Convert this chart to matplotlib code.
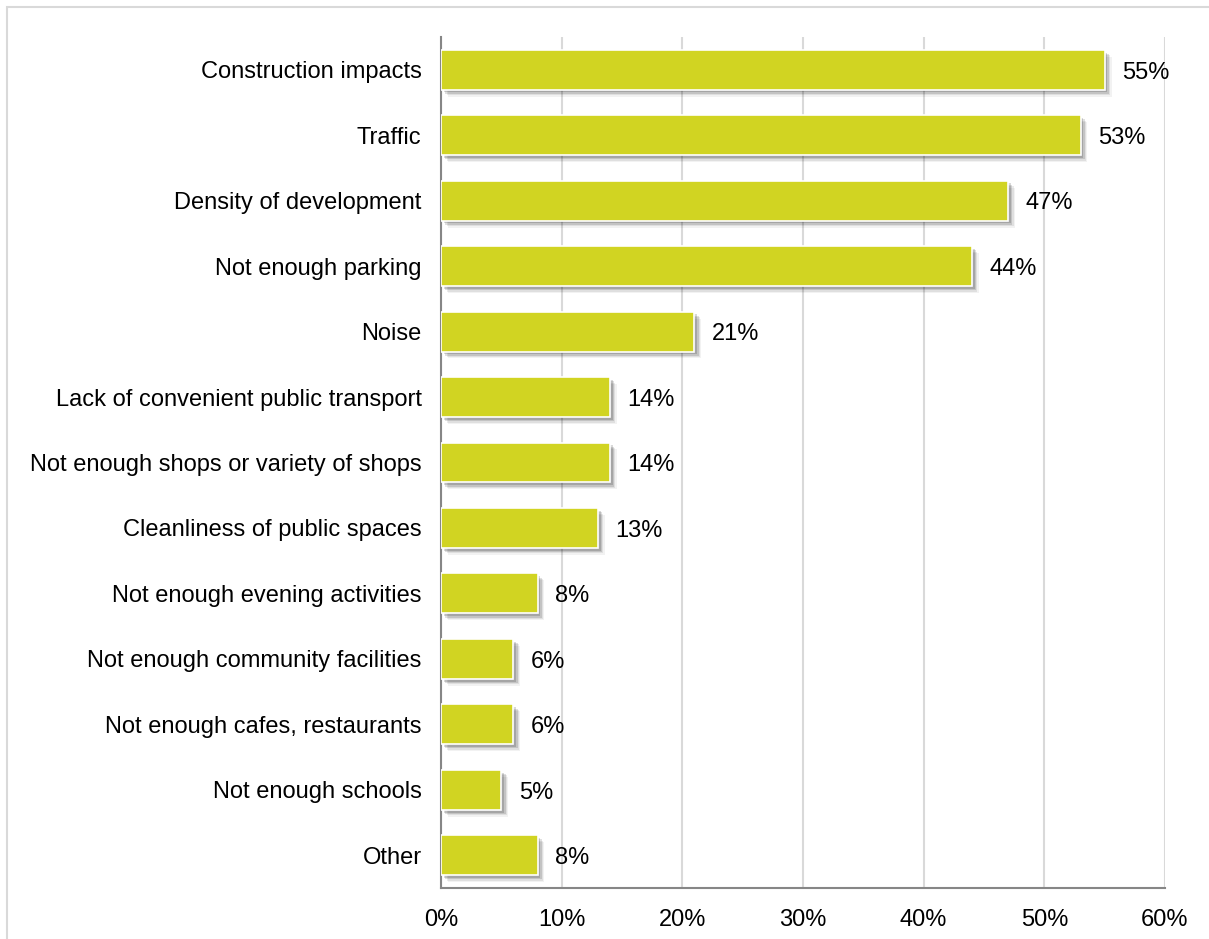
import numpy as np
import matplotlib.pyplot as plt
import matplotlib.patheffects as pe
from matplotlib.patches import Rectangle

plt.rcParams['font.family'] = ['Liberation Sans', 'DejaVu Sans']

categorias = [
    "Construction impacts",
    "Traffic",
    "Density of development",
    "Not enough parking",
    "Noise",
    "Lack of convenient public transport",
    "Not enough shops or variety of shops",
    "Cleanliness of public spaces",
    "Not enough evening activities",
    "Not enough community facilities",
    "Not enough cafes, restaurants",
    "Not enough schools",
    "Other",
]
valores = [55, 53, 47, 44, 21, 14, 14, 13, 8, 6, 6, 5, 8]
rotulos = ["55%", "53%", "47%", "44%", "21%", "14%", "14%", "13%",
           "8%", "6%", "6%", "5%", "8%"]
xticks = [0, 10, 20, 30, 40, 50, 60]

COR_BARRA = "#d1d422"
FONTE = 17.0

fig = plt.figure(figsize=(12.09, 9.39), dpi=100)

# moldura cinza clara em volta do gráfico
fig.patches.append(Rectangle((7 / 1209, -0.05), 1.1, 1.05 - 7 / 939,
                             transform=fig.transFigure, fill=False,
                             edgecolor="#d9d9d9", linewidth=1.5))

ax = fig.add_axes([441 / 1209, 1 - 888 / 939, (1165 - 441) / 1209, (888 - 37) / 939])

y = np.arange(len(categorias))

# sombra difusa: várias camadas deslocadas com pouca opacidade
sombra = [
    pe.SimplePatchShadow(offset=(o, -o), shadow_rgbFace="black", alpha=a)
    for o, a in [(5, 0.05), (4, 0.08), (3, 0.12), (2, 0.15)]
]
barras = ax.barh(y, valores, height=0.61, color=COR_BARRA,
                 edgecolor="white", linewidth=1.2, zorder=3)
for b in barras:
    b.set_path_effects(sombra + [pe.Normal()])

for yi, v, txt in zip(y, valores, rotulos):
    ax.annotate(txt, (v, yi), xytext=(12.5, -2), textcoords="offset points",
                va="center", ha="left", fontsize=FONTE, color="black", zorder=4)

ax.set_ylim(len(categorias) - 0.5, -0.5)
ax.set_xlim(0, 60)
ax.set_xticks(xticks)
ax.set_xticklabels([f"{t}%" for t in xticks])
ax.set_yticks(y)
ax.set_yticklabels(categorias)

ax.tick_params(axis="both", length=0, labelsize=FONTE, colors="black")
ax.tick_params(axis="y", pad=14)
ax.tick_params(axis="x", pad=15)

ax.grid(axis="x", color="#d9d9d9", linewidth=1.5, zorder=0)
ax.set_axisbelow(True)

for lado in ["top", "right"]:
    ax.spines[lado].set_visible(False)
ax.spines["left"].set_color("#868686")
ax.spines["bottom"].set_color("#868686")
ax.spines["left"].set_linewidth(1.5)
ax.spines["bottom"].set_linewidth(1.5)

fig.savefig("out.png", dpi=100)
